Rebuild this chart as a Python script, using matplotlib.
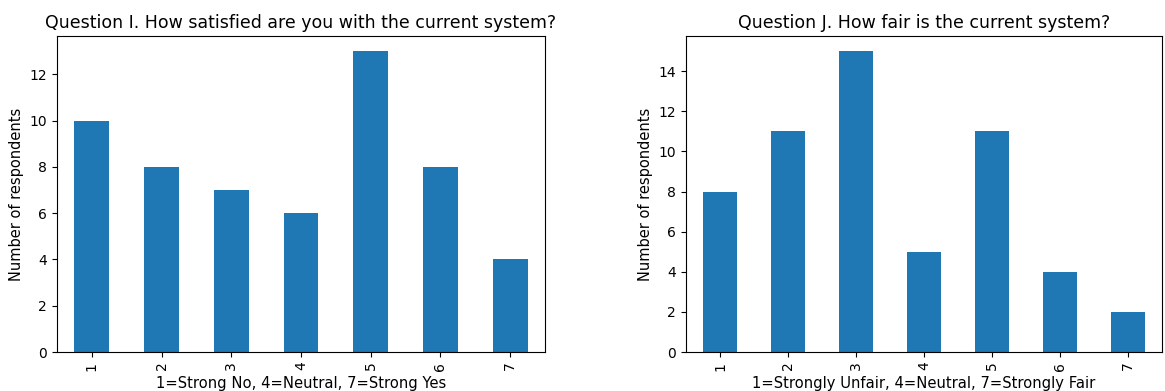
import matplotlib
matplotlib.use("Agg")
import matplotlib.pyplot as plt

categories = ["1", "2", "3", "4", "5", "6", "7"]
satisfied = [10, 8, 7, 6, 13, 8, 4]
fair = [8, 11, 15, 5, 11, 4, 2]

titles = ["Question I. How satisfied are you with the current system?",
          "Question J. How fair is the current system?"]
xlabels = ["1=Strong No, 4=Neutral, 7=Strong Yes",
           "1=Strongly Unfair, 4=Neutral, 7=Strongly Fair"]
ylabel = "Number of respondents"

fig = plt.figure(figsize=(11.65, 3.91), dpi=100)
ax1 = fig.add_axes([0.0489, 0.0997, 0.4189, 0.8082])
ax2 = fig.add_axes([0.5888, 0.0997, 0.4086, 0.8082])

for ax, vals, title, xl in zip([ax1, ax2], [satisfied, fair], titles, xlabels):
    x = list(range(len(categories)))
    ax.bar(x, vals, width=0.5, color="#1f77b4")
    ax.set_xlim(-0.5, len(categories) - 0.5)
    ax.set_xticks(x)
    ax.set_xticklabels(categories, rotation=90)
    ax.set_title(title, fontsize=12.5)
    ax.set_xlabel(xl, fontsize=10.6, labelpad=4)
    ax.set_ylabel(ylabel, fontsize=10.5)
    ax.tick_params(labelsize=10)

fig.savefig("out.png", dpi=100)
